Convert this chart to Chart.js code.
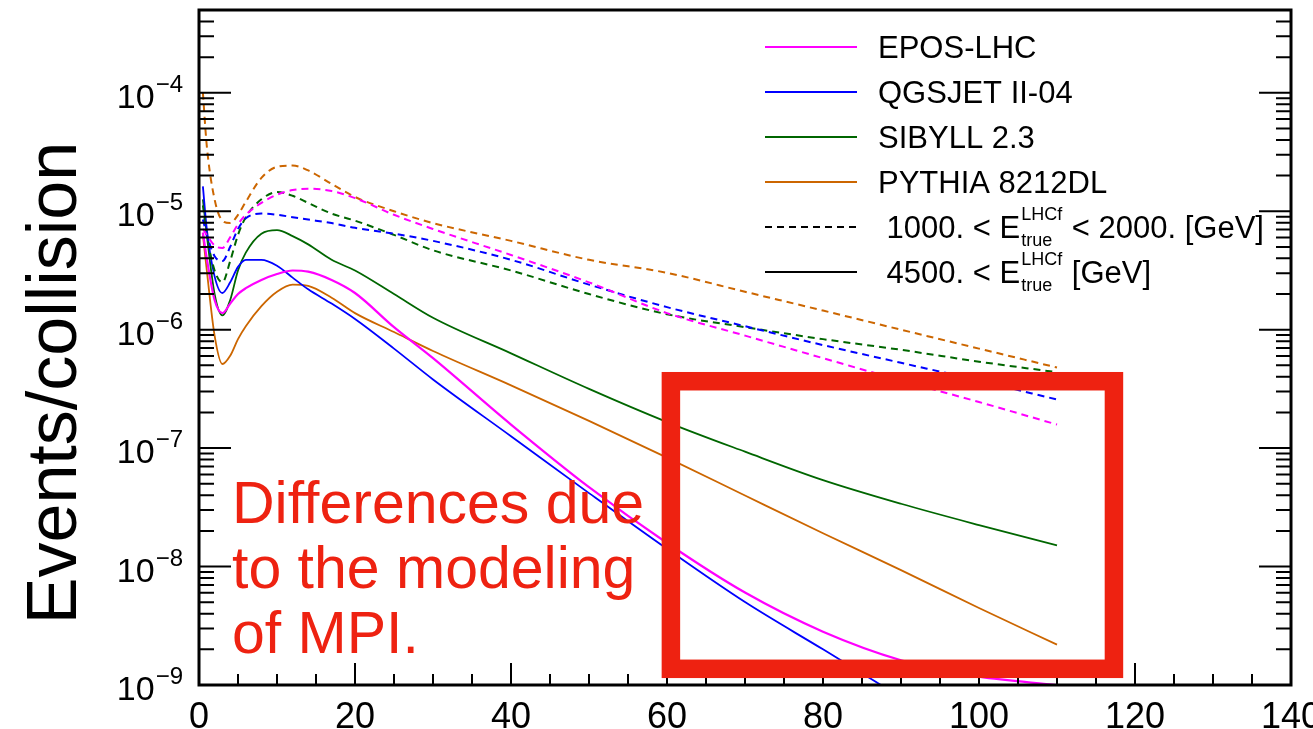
<!DOCTYPE html>
<html>
<head>
<meta charset="utf-8">
<title>Events/collision</title>
<script src="https://cdn.jsdelivr.net/npm/chart.js@4.4.1/dist/chart.umd.min.js"></script>
<style>
  html, body { margin: 0; padding: 0; background: #fff; }
  #wrap { width: 1313px; height: 729px; }
</style>
</head>
<body>
<div id="wrap"><canvas id="chart" width="1313" height="729"></canvas></div>
<script>
// x positions where the curves were read
var xValues = [0.5, 1, 2, 3, 4, 5, 6, 8, 10, 12, 14, 17, 20, 25, 30, 40, 50, 60, 70, 80, 90, 100, 110];

// 1000. < E < 2000. GeV  (dashed)
var eposLow   = [7.08e-6, 6.31e-6, 5.13e-6, 4.90e-6, 6.03e-6, 7.76e-6, 9.33e-6, 1.175e-5, 1.38e-5, 1.51e-5, 1.55e-5, 1.48e-5, 1.29e-5, 9.33e-6, 7.08e-6, 4.27e-6, 2.51e-6, 1.38e-6, 8.91e-7, 5.75e-7, 3.72e-7, 2.45e-7, 1.58e-7];
var qgsjetLow = [8.51e-6, 6.31e-6, 4.17e-6, 3.80e-6, 5.01e-6, 7.08e-6, 8.71e-6, 9.55e-6, 9.33e-6, 8.91e-6, 8.51e-6, 7.94e-6, 7.24e-6, 6.46e-6, 5.62e-6, 3.89e-6, 2.40e-6, 1.55e-6, 1.07e-6, 7.41e-7, 5.25e-7, 3.72e-7, 2.57e-7];
var sibyllLow = [1.12e-5, 6.31e-6, 3.16e-6, 2.51e-6, 3.80e-6, 6.31e-6, 8.91e-6, 1.26e-5, 1.45e-5, 1.35e-5, 1.175e-5, 9.55e-6, 8.32e-6, 6.31e-6, 4.68e-6, 3.16e-6, 2.00e-6, 1.35e-6, 1.05e-6, 8.32e-7, 6.76e-7, 5.37e-7, 4.37e-7];
var pythiaLow = [1.00e-4, 3.55e-5, 1.26e-5, 8.32e-6, 7.94e-6, 9.33e-6, 1.20e-5, 1.91e-5, 2.37e-5, 2.43e-5, 2.21e-5, 1.70e-5, 1.32e-5, 1.00e-5, 7.94e-6, 5.62e-6, 3.89e-6, 3.02e-6, 2.09e-6, 1.45e-6, 1.00e-6, 6.92e-7, 4.79e-7];

// 4500. < E GeV  (solid)
var eposHigh   = [6.61e-6, 3.98e-6, 1.78e-6, 1.38e-6, 1.66e-6, 2.00e-6, 2.24e-6, 2.63e-6, 2.95e-6, 3.16e-6, 3.09e-6, 2.63e-6, 2.04e-6, 1.05e-6, 5.75e-7, 1.58e-7, 4.68e-8, 1.58e-8, 6.03e-9, 2.82e-9, 1.62e-9, 1.175e-9, 1.00e-9];
var qgsjetHigh = [1.62e-5, 7.08e-6, 2.82e-6, 2.04e-6, 2.51e-6, 3.39e-6, 3.89e-6, 3.89e-6, 3.47e-6, 2.75e-6, 2.19e-6, 1.66e-6, 1.23e-6, 6.92e-7, 3.80e-7, 1.26e-7, 4.17e-8, 1.41e-8, 5.01e-9, 2.00e-9, 7.94e-10, 3.55e-10, 1.58e-10];
var sibyllHigh = [1.26e-5, 6.31e-6, 2.00e-6, 1.32e-6, 1.78e-6, 3.16e-6, 4.47e-6, 6.46e-6, 6.92e-6, 6.17e-6, 5.25e-6, 3.89e-6, 3.16e-6, 2.00e-6, 1.26e-6, 6.31e-7, 3.16e-7, 1.66e-7, 9.33e-8, 5.37e-8, 3.39e-8, 2.24e-8, 1.51e-8];
var pythiaHigh = [6.31e-6, 3.16e-6, 8.91e-7, 5.13e-7, 6.03e-7, 8.32e-7, 1.07e-6, 1.58e-6, 2.09e-6, 2.40e-6, 2.34e-6, 1.86e-6, 1.38e-6, 9.55e-7, 6.61e-7, 3.39e-7, 1.70e-7, 8.32e-8, 3.98e-8, 1.91e-8, 9.33e-9, 4.47e-9, 2.19e-9];

var modelNames  = ['EPOS-LHC', 'QGSJET II-04', 'SIBYLL 2.3', 'PYTHIA 8212DL'];
var modelColors = ['#ff00ff', '#0000ff', '#006600', '#cc6600'];

var xTickLabels = [0, 20, 40, 60, 80, 100, 120, 140];
var yTickLabels = [1e-9, 1e-8, 1e-7, 1e-6, 1e-5, 1e-4];
var yTickExponents = ['\u22129', '\u22128', '\u22127', '\u22126', '\u22125', '\u22124'];

// annotation (data coordinates)
var noteText = ['Differences due', 'to the modeling', 'of MPI.'];
var noteBox = { x0: 60.5, x1: 117.3, y0: 3.67e-7, y1: 1.37e-9 };

var RED = '#ee2211';
var FONT = '"Liberation Sans", Arial, Helvetica, sans-serif';

function pts(arr) {
  return arr.map(function (v, i) { return { x: xValues[i], y: v }; });
}

var lowSets = [eposLow, qgsjetLow, sibyllLow, pythiaLow];
var highSets = [eposHigh, qgsjetHigh, sibyllHigh, pythiaHigh];
var datasets = [];
lowSets.forEach(function (d, i) {
  datasets.push({ label: modelNames[i] + ' (1000-2000 GeV)', data: pts(d), borderColor: modelColors[i],
    borderWidth: 2, borderDash: [7, 5], pointRadius: 0, fill: false, cubicInterpolationMode: 'monotone' });
});
highSets.forEach(function (d, i) {
  datasets.push({ label: modelNames[i] + ' (> 4500 GeV)', data: pts(d), borderColor: modelColors[i],
    borderWidth: i === 0 ? 2.2 : 1.8, pointRadius: 0, fill: false, cubicInterpolationMode: 'monotone' });
});

function isDecade(v) {
  var l = Math.log10(v);
  return Math.abs(l - Math.round(l)) < 1e-6;
}

// frame, inward ticks (ROOT style)
var frame = {
  id: 'frame',
  afterDatasetsDraw: function (chart) {
    var ctx = chart.ctx, a = chart.chartArea;
    var xs = chart.scales.x, ys = chart.scales.y;
    ctx.save();
    ctx.strokeStyle = '#000';
    ctx.lineWidth = 2;
    ctx.beginPath();
    xs.ticks.forEach(function (t) {
      var px = xs.getPixelForValue(t.value);
      var len = xTickLabels.indexOf(t.value) >= 0 ? 22 : 11;
      ctx.moveTo(px, a.bottom); ctx.lineTo(px, a.bottom - len);
    });
    ys.ticks.forEach(function (t) {
      var py = ys.getPixelForValue(t.value);
      var len = isDecade(t.value) ? 32 : 15;
      ctx.moveTo(a.left, py); ctx.lineTo(a.left + len, py);
      ctx.moveTo(a.right, py); ctx.lineTo(a.right - len, py);
    });
    ctx.stroke();
    ctx.lineWidth = 3;
    ctx.strokeRect(a.left, a.top, a.right - a.left, a.bottom - a.top);
    ctx.restore();
  },
  afterDraw: function (chart) {
    var ctx = chart.ctx, a = chart.chartArea;
    var xs = chart.scales.x, ys = chart.scales.y;
    ctx.save();
    // y tick labels 10^n
    ctx.fillStyle = '#000';
    ctx.textBaseline = 'alphabetic';
    yTickLabels.forEach(function (v, i) {
      var py = ys.getPixelForValue(v);
      ctx.font = '24px ' + FONT;
      ctx.textAlign = 'right';
      var ex = yTickExponents[i];
      var ew = ctx.measureText(ex).width;
      ctx.fillText(ex, 183, py - 1);
      ctx.font = '34px ' + FONT;
      ctx.fillText('10', 183 - ew - 1, py + 15);
    });
    // y title
    ctx.save();
    ctx.translate(57, 383);
    ctx.rotate(-Math.PI / 2);
    ctx.font = '70px ' + FONT;
    ctx.textAlign = 'center';
    ctx.textBaseline = 'middle';
    ctx.fillText('Events/collision', 0, 0);
    ctx.restore();

    // legend
    var lx0 = 765, lx1 = 857, tx = 878, rowY = [47, 92, 137, 182, 227, 272];
    ctx.font = '31px ' + FONT;
    ctx.textAlign = 'left';
    modelNames.forEach(function (name, i) {
      ctx.strokeStyle = modelColors[i];
      ctx.lineWidth = 2;
      ctx.setLineDash([]);
      ctx.beginPath(); ctx.moveTo(lx0, rowY[i]); ctx.lineTo(lx1, rowY[i]); ctx.stroke();
      ctx.fillStyle = '#000';
      ctx.fillText(name, tx, rowY[i] + 11);
    });
    var rich = [
      [{ t: ' 1000. < E' }, { sup: 'LHCf', sub: 'true' }, { t: ' < 2000. [GeV]' }],
      [{ t: ' 4500. < E' }, { sup: 'LHCf', sub: 'true' }, { t: ' [GeV]' }]
    ];
    rich.forEach(function (parts, k) {
      var y = rowY[4 + k];
      ctx.strokeStyle = '#000';
      ctx.lineWidth = 2;
      ctx.setLineDash(k === 0 ? [7, 5] : []);
      ctx.beginPath(); ctx.moveTo(lx0, y); ctx.lineTo(lx1, y); ctx.stroke();
      ctx.setLineDash([]);
      var x = tx, base = y + 11;
      parts.forEach(function (p) {
        if (p.t) {
          ctx.font = '31px ' + FONT;
          ctx.fillText(p.t, x, base);
          x += ctx.measureText(p.t).width;
        } else {
          ctx.font = '18px ' + FONT;
          ctx.fillText(p.sup, x + 1, base - 18);
          ctx.fillText(p.sub, x + 1, base + 8);
          x += Math.max(ctx.measureText(p.sup).width, ctx.measureText(p.sub).width) + 2;
        }
      });
    });

    // red annotation
    var l = xs.getPixelForValue(noteBox.x0), r = xs.getPixelForValue(noteBox.x1);
    var t = ys.getPixelForValue(noteBox.y0), b = ys.getPixelForValue(noteBox.y1);
    ctx.strokeStyle = RED;
    ctx.lineWidth = 18.5;
    ctx.strokeRect(l, t, r - l, b - t);
    ctx.fillStyle = RED;
    ctx.font = '59px ' + FONT;
    ctx.textAlign = 'left';
    noteText.forEach(function (line, i) {
      ctx.fillText(line, a.left + 33, 523 + i * 65);
    });
    ctx.restore();
  }
};

new Chart(document.getElementById('chart').getContext('2d'), {
  type: 'line',
  data: { datasets: datasets },
  options: {
    responsive: false,
    animation: false,
    devicePixelRatio: 1,
    layout: { padding: { left: 0, right: 22, top: 10, bottom: 0 } },
    plugins: { legend: { display: false }, tooltip: { enabled: false } },
    scales: {
      x: {
        type: 'linear', min: 0, max: 140,
        grid: { display: false }, border: { display: false },
        ticks: {
          autoSkip: false, maxRotation: 0, padding: 3, color: '#000',
          font: { size: 36, family: FONT },
          callback: function (v) { return xTickLabels.indexOf(v) >= 0 ? String(v) : ''; }
        },
        afterBuildTicks: function (s) {
          var t = [];
          for (var v = 0; v <= 140; v += 5) t.push({ value: v });
          s.ticks = t;
        },
        afterFit: function (s) { s.height = 44; s.paddingLeft = 0; s.paddingRight = 0; }
      },
      y: {
        type: 'logarithmic', min: 1e-9, max: 5e-4,
        grid: { display: false }, border: { display: false },
        ticks: { display: false },
        afterBuildTicks: function (s) {
          var t = [];
          yTickLabels.forEach(function (d) {
            for (var k = 1; k <= 9; k++) {
              var v = k * d;
              if (v <= 5e-4) t.push({ value: v });
            }
          });
          s.ticks = t;
        },
        afterFit: function (s) { s.width = 199; s.paddingTop = 0; s.paddingBottom = 0; }
      }
    }
  },
  plugins: [frame]
});
</script>
</body>
</html>
